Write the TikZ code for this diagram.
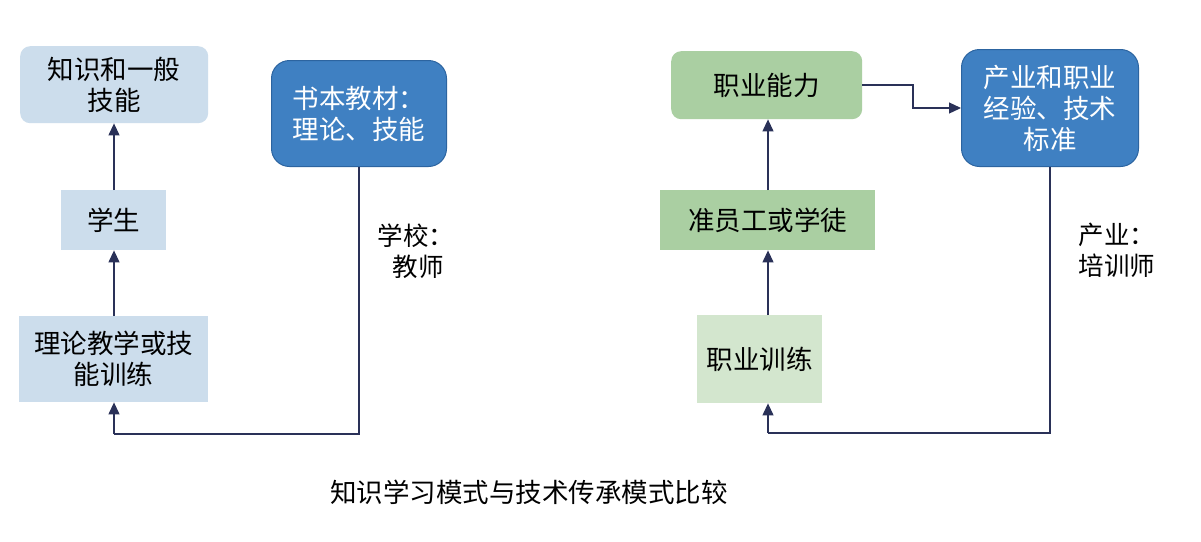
\documentclass[tikz,border=0pt]{standalone}
\usepackage{fontspec}
\setmainfont{Noto Sans CJK SC}
\usetikzlibrary{arrows.meta}
\definecolor{lblue}{HTML}{CCDDEC}
\definecolor{mblue}{HTML}{3F80C2}
\definecolor{dblue}{HTML}{2C64A0}
\definecolor{mgreen}{HTML}{AACFA2}
\definecolor{lgreen}{HTML}{D3E6CE}
\definecolor{navy}{HTML}{2A3158}
\begin{document}
\begin{tikzpicture}[x=1pt,y=-1pt,
  box/.style={anchor=north west,inner sep=0pt,align=center,font=\fontsize{26.5}{31}\selectfont},
  conn/.style={draw=navy,line width=1.2pt,-{Triangle[length=12pt,width=11pt]}},
  plain/.style={draw=navy,line width=1.2pt},
  lab/.style={font=\fontsize{25.5}{31}\selectfont,align=left}]
\fill[white] (0,0) rectangle (1201,541);
\useasboundingbox (0,0) rectangle (1201,541);
\coordinate (colL) at (114,0);
\coordinate (colR) at (768,0);
% left side
\node[box,fill=lblue,rounded corners=10pt,minimum width=188pt,minimum height=77pt] (k) at (20,46) {知识和一般\\技能};
\node[box,fill=lblue,minimum width=105pt,minimum height=60pt] (s) at (61,190) {学生};
\node[box,fill=lblue,minimum width=189pt,minimum height=86pt] (t) at (19,316) {理论教学或技\\能训练};
\node[box,fill=mblue,draw=dblue,line width=1pt,rounded corners=18pt,minimum width=175pt,minimum height=106pt,text=white,align=left] (b) at (271,60) {书本教材：\\理论、技能};
\coordinate (c2) at (114,434);
\draw[conn] (s.north -| colL) -- (k.south -| colL);
\draw[conn] (t.north -| colL) -- (s.south -| colL);
\draw[plain] (b.south) -- (b.south |- c2) -- (c2);
\draw[conn] (c2) -- (t.south -| colL);
\node[lab,anchor=north west] (l1) at (374,220) {学校：\\\hspace*{0.6em}教师};
% right side
\node[box,fill=mgreen,rounded corners=10pt,minimum width=191pt,minimum height=68pt] (p) at (671,51) {职业能力};
\node[box,fill=mgreen,minimum width=215pt,minimum height=60pt] (a) at (660,190) {准员工或学徒};
\node[box,fill=lgreen,minimum width=125pt,minimum height=88pt] (v) at (697,315) {职业训练};
\node[box,fill=mblue,draw=dblue,line width=1pt,rounded corners=18pt,minimum width=177pt,minimum height=117pt,text=white] (i) at (961,49) {产业和职业\\经验、技术\\标准};
\coordinate (d1) at (913,85);
\coordinate (d2) at (913,108);
\coordinate (e2) at (768,433);
\draw[conn] (p.east |- d1) -- (d1) -- (d2) -- (i.west |- d2);
\draw[conn] (a.north -| colR) -- (p.south -| colR);
\draw[conn] (v.north -| colR) -- (a.south -| colR);
\draw[plain] (i.south) -- (i.south |- e2) -- (e2);
\draw[conn] (e2) -- (v.south -| colR);
\node[lab,anchor=north west] (l2) at (1075,220) {产业：\\培训师};
% caption
\node[font=\fontsize{26.5}{30}\selectfont] (cap) at (529,492) {知识学习模式与技术传承模式比较};
\end{tikzpicture}
\end{document}
